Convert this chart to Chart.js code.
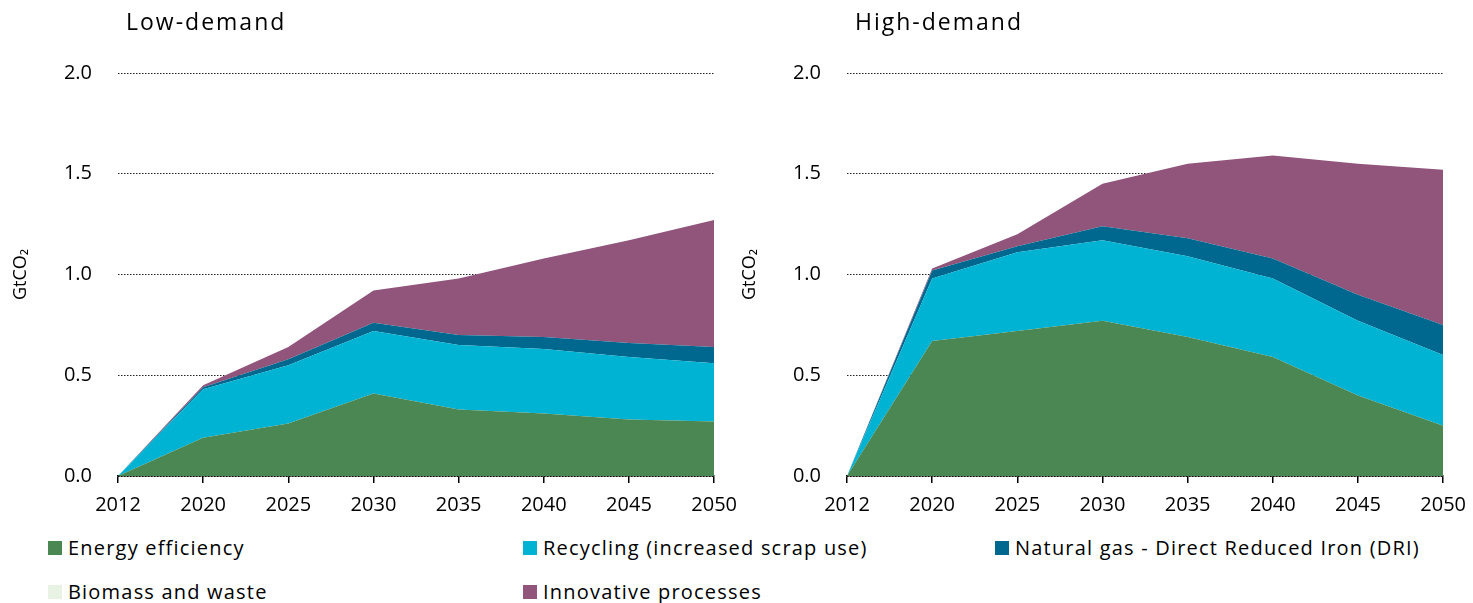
<!DOCTYPE html>
<html>
<head>
<meta charset="utf-8">
<script src="https://cdn.jsdelivr.net/npm/chart.js@4/dist/chart.umd.min.js"></script>
<style>
  html, body { margin: 0; padding: 0; background: #fff; }
  body { width: 1473px; height: 603px; position: relative; overflow: hidden;
         font-family: "Open Sans", sans-serif; color: #000; }
  .panel { position: absolute; top: 0; width: 747px; height: 520px; }
  .panel canvas { width: 747px; height: 520px; }
  .title { position: absolute; top: 5px; font-size: 23px; letter-spacing: 2px; }
  .legend-item { position: absolute; font-size: 20px; letter-spacing: 1.2px; line-height: 24px; white-space: nowrap; }
  .legend-item i { position: absolute; left: 0; top: 5px; width: 14px; height: 14px; }
  .legend-item span { position: absolute; left: 20px; top: 0; }
</style>
</head>
<body>
<div class="panel" style="left:0"><canvas id="lowChart" width="747" height="520"></canvas></div>
<div class="panel" style="left:729px"><canvas id="highChart" width="747" height="520"></canvas></div>
<div class="title" style="left:126px">Low-demand</div>
<div class="title" style="left:855px">High-demand</div>
<div id="legend"></div>

<script>
// Emission reductions in the steel sector, GtCO2, by measure
const years = ['2012', '2020', '2025', '2030', '2035', '2040', '2045', '2050'];

const seriesNames = [
    'Energy efficiency',
    'Recycling (increased scrap use)',
    'Natural gas - Direct Reduced Iron (DRI)',
    'Biomass and waste',
    'Innovative processes'
];
const seriesColors = ['#4a8753', '#00b3d3', '#00688e', '#e8f3e4', '#91557c'];

// Low-demand scenario (stacked contributions)
const lowEfficiency = [0, 0.19, 0.26, 0.41, 0.33, 0.31, 0.28, 0.27];
const lowRecycling  = [0, 0.24, 0.29, 0.31, 0.32, 0.32, 0.31, 0.29];
const lowGasDri     = [0, 0.01, 0.03, 0.04, 0.05, 0.06, 0.07, 0.08];
const lowBiomass    = [0, 0, 0, 0, 0, 0, 0, 0];
const lowInnovative = [0, 0.01, 0.06, 0.16, 0.28, 0.39, 0.51, 0.63];

// High-demand scenario (stacked contributions)
const highEfficiency = [0, 0.67, 0.72, 0.77, 0.69, 0.59, 0.40, 0.25];
const highRecycling  = [0, 0.31, 0.39, 0.40, 0.40, 0.39, 0.37, 0.35];
const highGasDri     = [0, 0.04, 0.03, 0.07, 0.09, 0.10, 0.13, 0.15];
const highBiomass    = [0, 0, 0, 0, 0, 0, 0, 0];
const highInnovative = [0, 0.01, 0.06, 0.21, 0.37, 0.51, 0.65, 0.77];

const yTicks = [0, 0.5, 1.0, 1.5, 2.0];

const FONT = '"Open Sans", sans-serif';

function buildDatasets(values) {
    return values.map((data, i) => ({
        label: seriesNames[i],
        data: data,
        backgroundColor: seriesColors[i],
        borderColor: seriesColors[i],
        borderWidth: 0,
        pointRadius: 0,
        tension: 0,
        fill: i === 0 ? 'origin' : '-1'
    }));
}

function makeChart(canvasId, values) {
    const ctx = document.getElementById(canvasId).getContext('2d');
    return new Chart(ctx, {
        type: 'line',
        data: { labels: years, datasets: buildDatasets(values) },
        options: {
            responsive: false,
            animation: false,
            layout: { padding: { top: 73, right: 26, left: 0, bottom: 0 } },
            plugins: {
                legend: { display: false },
                tooltip: { enabled: false }
            },
            scales: {
                x: {
                    offset: false,
                    afterFit: (scale) => { scale.height = 44; },
                    grid: {
                        drawOnChartArea: false,
                        drawTicks: true,
                        tickLength: 7,
                        color: '#000',
                        lineWidth: 1.5
                    },
                    border: { display: true, color: '#000', width: 1.5 },
                    ticks: {
                        color: '#000',
                        padding: 10,
                        maxRotation: 0,
                        autoSkip: false,
                        font: { family: FONT, size: 20 }
                    }
                },
                y: {
                    stacked: true,
                    min: 0,
                    max: 2,
                    afterFit: (scale) => { scale.width = 118; },
                    afterBuildTicks: (scale) => {
                        scale.ticks = yTicks.map(v => ({ value: v }));
                    },
                    grid: {
                        drawTicks: false,
                        color: '#222',
                        lineWidth: 1
                    },
                    border: { display: false, dash: [1.5, 1.5] },
                    ticks: {
                        color: '#000',
                        padding: 26,
                        font: { family: FONT, size: 20 },
                        callback: (v) => Number(v).toFixed(1)
                    },
                    title: {
                        display: true,
                        text: 'GtCO₂',
                        color: '#000',
                        padding: { top: 10, bottom: 0 },
                        font: { family: FONT, size: 18 }
                    }
                }
            }
        }
    });
}

makeChart('lowChart', [lowEfficiency, lowRecycling, lowGasDri, lowBiomass, lowInnovative]);
makeChart('highChart', [highEfficiency, highRecycling, highGasDri, highBiomass, highInnovative]);

// Shared legend below both panels, three columns
const legendPos = [[48, 536], [523, 536], [995, 536], [48, 580], [523, 580]];
const legend = document.getElementById('legend');
seriesNames.forEach((name, i) => {
    const item = document.createElement('div');
    item.className = 'legend-item';
    item.style.left = legendPos[i][0] + 'px';
    item.style.top = legendPos[i][1] + 'px';
    item.innerHTML = `<i style="background:${seriesColors[i]}"></i><span>${name}</span>`;
    legend.appendChild(item);
});
</script>
</body>
</html>
